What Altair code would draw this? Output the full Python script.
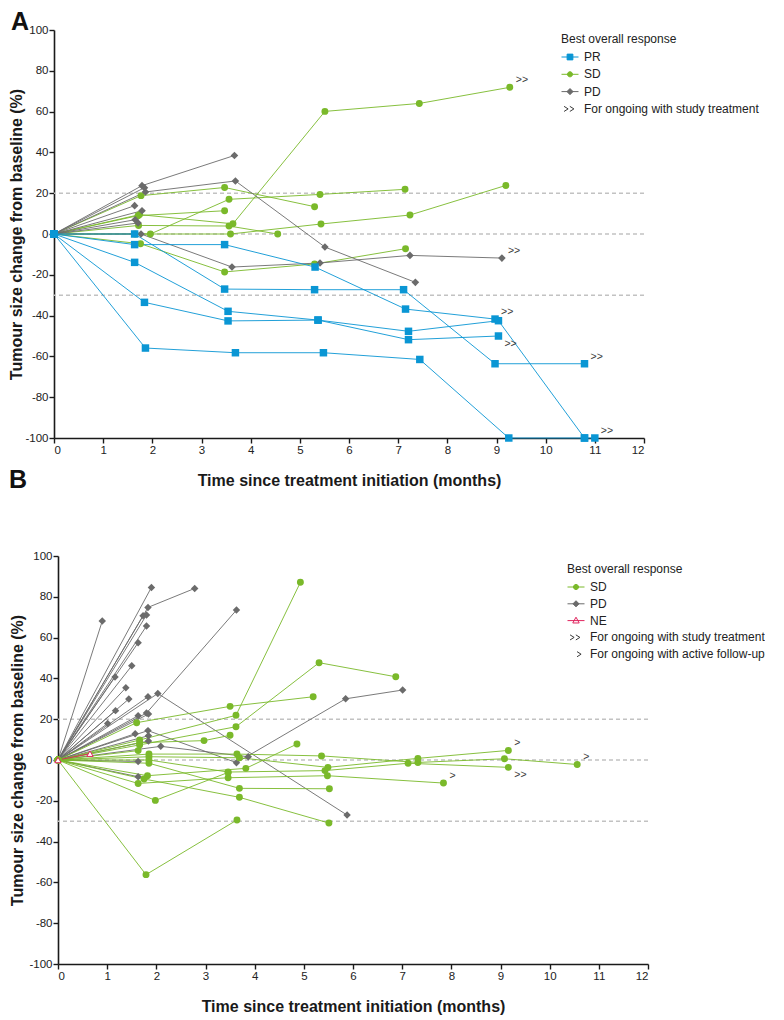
import altair as alt
import pandas as pd

REF_LINES = [20, 0, -30]
X_TICKS = list(range(0, 13))
Y_TICKS = list(range(-100, 101, 20))

# ---------------- Panel A ----------------
A_PR_MONTHS = [
    [0, 1.64, 3.47, 5.31, 7.15, 8.97],
    [0, 1.64, 3.47, 5.30, 7.11, 8.97, 10.79],
    [0, 1.64, 3.54, 5.37, 7.21, 9.04, 10.79, 11.00],
    [0, 1.84, 3.54, 5.37, 7.21, 9.04],
    [0, 1.86, 3.69, 5.48, 7.44, 9.25, 10.79],
]
A_PR_VALUES = [
    [0, -5.2, -5.2, -16.2, -36.8, -41.7],
    [0, 0.0, -27.0, -27.3, -27.3, -63.6, -63.6],
    [0, -13.9, -37.9, -42.2, -47.7, -42.5, -100, -100],
    [0, -33.5, -42.6, -42.2, -51.8, -50.0],
    [0, -55.9, -58.2, -58.2, -61.5, -100, -100],
]
A_SD_MONTHS = [
    [0, 1.77, 3.47, 5.30],
    [0, 1.96, 3.56, 5.41, 7.14],
    [0, 1.71, 3.47],
    [0, 1.74, 3.64, 5.51, 7.43, 9.27],
    [0, 1.72, 3.56, 4.55],
    [0, 1.65, 3.59, 5.43, 7.24, 9.19],
    [0, 1.76, 3.47, 5.30, 7.15],
]
A_SD_VALUES = [
    [0, 18.8, 22.8, 13.4],
    [0, 0.0, 17.0, 19.4, 21.9],
    [0, 9.0, 11.4],
    [0, 9.5, 5.0, 60.1, 64.0, 71.9],
    [0, 4.2, 3.9, 0.0],
    [0, 0.0, 0.0, 4.9, 9.3, 23.8],
    [0, -4.8, -18.6, -14.7, -7.2],
]
A_PD_MONTHS = [
    [0, 1.79, 3.67],
    [0, 1.86, 3.69, 5.51, 7.35],
    [0, 1.77, 3.62, 5.41, 7.24, 9.11],
    [0, 1.84], [0, 1.64], [0, 1.79], [0, 1.65], [0, 1.71],
]
A_PD_VALUES = [
    [0, 23.7, 38.5],
    [0, 20.6, 26.0, -6.4, -23.7],
    [0, 0.0, -16.2, -14.2, -10.5, -11.8],
    [0, 22.7], [0, 13.9], [0, 11.4], [0, 7.0], [0, 5.4],
]
A_ONGOING_UP = [("PR", 0), ("PR", 1), ("PR", 2), ("SD", 3), ("PD", 2)]
A_ONGOING_DOWN = [("PR", 3)]

# ---------------- Panel B ----------------
B_SD_MONTHS = [
    [0, 1.60, 3.50, 5.19],
    [0, 1.66, 3.62, 4.93],
    [0, 1.66, 3.62, 5.31, 6.87],
    [0, 1.66, 2.97, 3.50],
    [0, 1.85, 3.64, 5.36, 7.32, 9.08, 10.56],
    [0, 1.85, 3.69, 5.49, 7.32, 9.16],
    [0, 1.85, 3.46, 5.43, 7.12, 9.16],
    [0, 1.85, 3.69, 5.52],
    [0, 1.63],
    [0, 1.82, 3.82, 4.86],
    [0, 1.75, 3.69, 5.51],
    [0, 1.63, 3.46, 5.48, 7.84],
    [0, 1.98, 3.46],
    [0, 1.79, 3.64],
]
B_SD_VALUES = [
    [0, 18.3, 26.3, 31.0],
    [0, 9.8, 21.9, 87.1],
    [0, 7.4, 16.3, 47.7, 40.8],
    [0, 8.5, 9.5, 12.1],
    [0, 2.9, 2.9, 2.0, -1.2, 0.6, -2.2],
    [0, 1.6, 1.1, -3.6, 0.8, 4.7],
    [0, 0.0, -5.9, -5.2, -1.6, -3.6],
    [0, -1.6, -13.9, -14.1],
    [0, 4.6],
    [0, -7.7, -4.1, 7.8],
    [0, -9.3, -18.3, -30.9],
    [0, -11.5, -8.7, -7.7, -11.3],
    [0, -19.8, -6.1],
    [0, -56.2, -29.4],
]
B_PD_MONTHS = [
    [0, 1.83, 2.78],
    [0, 1.80, 3.63],
    [0, 2.03, 5.88],
    [0, 1.83, 3.63, 5.85, 7.01],
    [0, 2.09, 3.87],
    [0, 0.90], [0, 1.90], [0, 1.73], [0, 1.80], [0, 1.80], [0, 1.63], [0, 1.50],
    [0, 1.16], [0, 1.38], [0, 1.44], [0, 1.17], [0, 1.01], [0, 1.83], [0, 1.63],
    [0, 1.84], [0, 1.57], [0, 1.84], [0, 1.84], [0, 1.63], [0, 1.63],
]
B_PD_VALUES = [
    [0, 74.8, 84.1],
    [0, 23.0, 73.5],
    [0, 32.6, -27.0],
    [0, 14.4, -1.3, 30.0, 34.3],
    [0, 6.7, 1.6],
    [0, 68.1], [0, 84.6], [0, 70.7], [0, 71.1], [0, 65.7], [0, 57.5], [0, 46.2],
    [0, 40.7], [0, 35.4], [0, 29.9], [0, 24.2], [0, 17.9], [0, 31.0], [0, 21.7],
    [0, 22.5], [0, 12.9], [0, 11.9], [0, 9.3], [0, -0.7], [0, -8.2],
]
B_NE_MONTHS = [[0, 0.65]]
B_NE_VALUES = [[0, 3.1]]
B_ONGOING_DOWN = [("SD", 6)]                        # >>
B_FOLLOWUP_UP = [("SD", 4), ("SD", 5), ("SD", 11)]  # >

LEG_A = ["PR", "SD", "PD", "For ongoing with study treatment"]
LEG_B = ["SD", "PD", "NE", "For ongoing with study treatment",
         "For ongoing with active follow-up"]

# ---------------- styles ----------------
BLUE = "#0a96d4"
GREEN = "#7ab92a"
GRAY = "#6b6b6b"
RED = "#e0245e"
DARK = "#3a3a3a"
FONT = "Liberation Sans, Arial, sans-serif"

P_SQUARE = "M-1,0H1M-0.34,-0.34H0.34V0.34H-0.34Z"
P_CIRCLE = "M-1,0H1M-0.3,0A0.3,0.3 0 1,0 0.3,0A0.3,0.3 0 1,0 -0.3,0Z"
P_DIAMOND = "M-1,0H1M0,-0.36L0.36,0L0,0.36L-0.36,0Z"
P_TRI = "M-1,0H1M0,-0.4L0.38,0.28L-0.38,0.28Z"
P_DCHEV = "M-0.7,-0.3L-0.22,0L-0.7,0.3M-0.02,-0.3L0.46,0L-0.02,0.3"
P_CHEV = "M0.12,-0.3L0.6,0L0.12,0.3"


def long_table(groups):
    rows = []
    for g, (ms, vs) in groups.items():
        for i, (m, v) in enumerate(zip(ms, vs)):
            for k, (mm, vv) in enumerate(zip(m, v)):
                rows.append({"group": g, "pid": f"{g}{i}", "k": k,
                             "month": mm, "value": vv})
    return pd.DataFrame(rows)


def note_table(groups, items, label):
    return pd.DataFrame([{"month": groups[g][0][i][-1],
                          "value": groups[g][1][i][-1],
                          "label": label} for g, i in items])


def make_panel(groups, styles, leg_field, leg_labels, leg_fill, leg_stroke,
               leg_paths, notes, ytp, leg_x, leg_y, row_pad, extra=()):
    df = long_table(groups)
    x = alt.X("month:Q", scale=alt.Scale(domain=[0, 12], nice=False),
              axis=alt.Axis(values=X_TICKS, format="d", titlePadding=17,
                            title="Time since treatment initiation (months)"))
    y = alt.Y("value:Q", scale=alt.Scale(domain=[-100, 100], nice=False),
              axis=alt.Axis(values=Y_TICKS, titlePadding=ytp,
                            labelExpr="'' + datum.value",
                            title="Tumour size change from baseline (%)"))
    layers = [alt.Chart(pd.DataFrame({"value": REF_LINES}))
              .mark_rule(color="#c2c2c2", strokeDash=[4, 3], strokeWidth=1.4)
              .encode(y=y)]
    base = alt.Chart(df)
    for g, st in styles:
        layers.append(base.transform_filter(alt.datum.group == g)
                      .mark_line(color=st["stroke"], strokeWidth=1, opacity=0.9)
                      .encode(x=x, y=y, detail="pid:N", order="k:Q"))
    for g, st in styles:
        layers.append(base.transform_filter(alt.datum.group == g)
                      .mark_point(shape=st["shape"], size=st["size"], filled=True,
                                  fill=st["fill"], stroke=st["stroke"],
                                  strokeWidth=st["sw"], opacity=1)
                      .encode(x=x, y=y))
    for ndf, dy in notes:
        layers.append(alt.Chart(ndf).mark_text(align="left", baseline="middle",
                                               dx=6, dy=dy, fontSize=10.5,
                                               font=FONT, color=DARK)
                      .encode(x=x, y=y, text="label:N"))
    lg = dict(title="Best overall response", orient="none", legendX=leg_x,
              legendY=leg_y, titleFont=FONT, titleFontSize=12,
              titleFontWeight="normal", titleColor="#222", titlePadding=2,
              labelFont=FONT, labelFontSize=12, labelColor="#222",
              symbolSize=289, symbolStrokeWidth=1, rowPadding=row_pad,
              labelOffset=5, padding=0, labelLimit=400)
    fld = f"{leg_field}:N"
    layers.append(
        alt.Chart(pd.DataFrame({leg_field: leg_labels}))
        .transform_filter("false")
        .mark_point(size=289, strokeWidth=1, opacity=1)
        .encode(
            fill=alt.Fill(fld, scale=alt.Scale(domain=leg_labels, range=leg_fill),
                          legend=alt.Legend(**lg)),
            stroke=alt.Stroke(fld, scale=alt.Scale(domain=leg_labels, range=leg_stroke),
                              legend=alt.Legend(**lg)),
            shape=alt.Shape(fld, scale=alt.Scale(domain=leg_labels, range=leg_paths),
                            legend=alt.Legend(**lg)),
        ))
    layers.extend(extra)
    return alt.layer(*layers).properties(width=590, height=408)


# ---- Panel A ----
A_GROUPS = {"PR": (A_PR_MONTHS, A_PR_VALUES),
            "SD": (A_SD_MONTHS, A_SD_VALUES),
            "PD": (A_PD_MONTHS, A_PD_VALUES)}
A_STYLES = [
    ("SD", dict(shape="circle", size=48, fill=GREEN, stroke=GREEN, sw=0)),
    ("PD", dict(shape="diamond", size=58, fill=GRAY, stroke=GRAY, sw=0)),
    ("PR", dict(shape="square", size=56, fill=BLUE, stroke=BLUE, sw=0)),
]
letters = pd.DataFrame({"t": ["A", "B"]})
letter_A = (alt.Chart(letters).transform_filter(alt.datum.t == "A")
            .mark_text(align="left", baseline="top", fontSize=25,
                       fontWeight="bold", font=FONT, color="#111")
            .encode(text="t:N", x=alt.value(-43), y=alt.value(-20)))
letter_B = (alt.Chart(letters).transform_filter(alt.datum.t == "B")
            .mark_text(align="left", baseline="top", fontSize=25,
                       fontWeight="bold", font=FONT, color="#111")
            .encode(text="t:N", x=alt.value(-45), y=alt.value(438)))

panel_a = make_panel(
    A_GROUPS, A_STYLES, "resp_a", LEG_A,
    [BLUE, GREEN, GRAY, "transparent"],
    [BLUE, GREEN, GRAY, DARK],
    [P_SQUARE, P_CIRCLE, P_DIAMOND, P_DCHEV],
    [(note_table(A_GROUPS, A_ONGOING_UP, ">>"), -7),
     (note_table(A_GROUPS, A_ONGOING_DOWN, ">>"), 8)],
    ytp=0, leg_x=507, leg_y=4, row_pad=2.3, extra=(letter_A, letter_B))

# ---- Panel B ----
B_GROUPS = {"SD": (B_SD_MONTHS, B_SD_VALUES),
            "PD": (B_PD_MONTHS, B_PD_VALUES),
            "NE": (B_NE_MONTHS, B_NE_VALUES)}
B_STYLES = [
    ("PD", dict(shape="diamond", size=56, fill=GRAY, stroke=GRAY, sw=0)),
    ("SD", dict(shape="circle", size=48, fill=GREEN, stroke=GREEN, sw=0)),
    ("NE", dict(shape="triangle-up", size=40, fill="white", stroke=RED, sw=1)),
]
panel_b = make_panel(
    B_GROUPS, B_STYLES, "resp_b", LEG_B,
    [GREEN, GRAY, "white", "transparent", "transparent"],
    [GREEN, GRAY, RED, DARK, DARK],
    [P_CIRCLE, P_DIAMOND, P_TRI, P_DCHEV, P_CHEV],
    [(note_table(B_GROUPS, B_ONGOING_DOWN, ">>"), 8),
     (note_table(B_GROUPS, B_FOLLOWUP_UP, ">"), -7)],
    ytp=3, leg_x=513, leg_y=8, row_pad=1.8)

spacer = (alt.Chart(pd.DataFrame({"v": [0]})).mark_point(opacity=0)
          .properties(width=1, height=10))
row_b = alt.hconcat(spacer, panel_b, spacing=3, bounds="flush")

chart = (alt.vconcat(panel_a, row_b, spacing=57,
                     padding={"left": 0, "top": 2, "right": 0, "bottom": 0})
         .resolve_scale(fill="independent", stroke="independent",
                        shape="independent")
         .resolve_legend(fill="independent", stroke="independent",
                         shape="independent")
         .configure_view(strokeWidth=0)
         .configure_axis(grid=False, domainColor="#1a1a1a", domainWidth=1.6,
                         tickColor="#1a1a1a", tickWidth=1.4, tickSize=5,
                         labelFont=FONT, labelFontSize=11.5, labelColor="#222",
                         labelPadding=1, titleFont=FONT, titleFontSize=16,
                         titleFontWeight="bold", titleColor="#1a1a1a"))

chart.save("out.html", embed_options={"renderer": "svg", "actions": False})
